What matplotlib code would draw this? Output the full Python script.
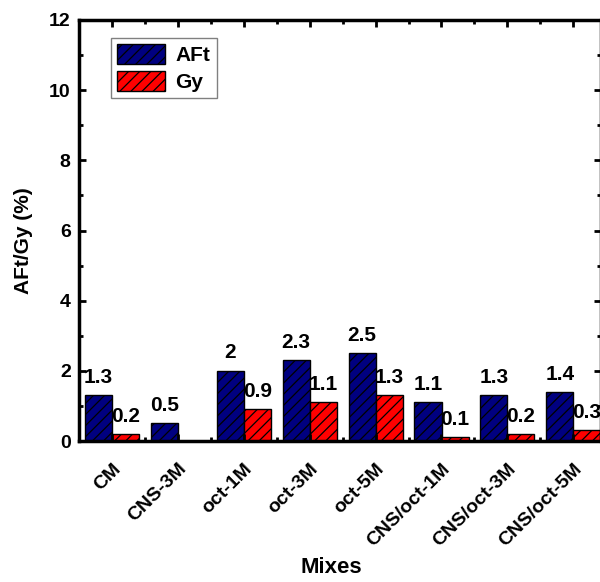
import matplotlib
matplotlib.use("Agg")
import matplotlib.pyplot as plt
import matplotlib.transforms as mtransforms
import numpy as np
from matplotlib.ticker import MultipleLocator

plt.rcParams['font.family'] = ['Liberation Sans', 'DejaVu Sans']
plt.rcParams['font.weight'] = 'bold'
plt.rcParams['hatch.linewidth'] = 0.9

# AFt / Gy content for each mix
mixes = ['CM', 'CNS-3M', 'oct-1M', 'oct-3M', 'oct-5M',
         'CNS/oct-1M', 'CNS/oct-3M', 'CNS/oct-5M']
aft = [1.3, 0.5, 2.0, 2.3, 2.5, 1.1, 1.3, 1.4]
gy = [0.2, np.nan, 0.9, 1.1, 1.3, 0.1, 0.2, 0.3]

fig = plt.figure(figsize=(6.0, 5.82), dpi=100)
ax = fig.add_axes([79 / 600, (582 - 441) / 582, 522 / 600, 421 / 582])

x = np.arange(len(mixes))
w = 0.41
b1 = ax.bar(x - w / 2, aft, w, color='#000080', edgecolor='black',
            linewidth=1.0, hatch='///', label='AFt')
b2 = ax.bar(x + w / 2, gy, w, color='#ff0000', edgecolor='black',
            linewidth=1.0, hatch='///', label='Gy')

# value labels over the bars
for bars, vals in ((b1, aft), (b2, gy)):
    for rect, v in zip(bars, vals):
        if np.isnan(v):
            continue
        ax.annotate(f'{v:g}', (rect.get_x() + rect.get_width() / 2, v),
                    xytext=(0, 6), textcoords='offset points',
                    ha='center', va='bottom', fontsize=15, fontweight='bold')

ax.set_xlim(-0.5, 7.42)
ax.set_ylim(0, 12)
ax.set_xticks(x)
ax.set_xticklabels(mixes, rotation=45, ha='right', va='top',
                   rotation_mode='anchor')
# pull the slanted labels back so their ends sit under the ticks
shift = mtransforms.ScaledTranslation(-8 / 72, 0, fig.dpi_scale_trans)
for lab in ax.get_xticklabels():
    lab.set_transform(lab.get_transform() + shift)
ax.xaxis.set_minor_locator(MultipleLocator(0.5))
ax.yaxis.set_major_locator(MultipleLocator(2))
ax.yaxis.set_minor_locator(MultipleLocator(1))

for s in ax.spines.values():
    s.set_linewidth(2.5)
ax.tick_params(which='both', direction='in', top=True, right=True, width=2)
ax.tick_params(which='major', length=5)
ax.tick_params(which='minor', length=3)
ax.tick_params(axis='x', which='major', pad=14, labelsize=14)
ax.tick_params(axis='y', which='major', pad=6, labelsize=14)

ax.set_ylabel('AFt/Gy (%)', fontsize=15, fontweight='bold')
ax.yaxis.set_label_coords(-0.088, 0.477)
ax.set_xlabel('Mixes', fontsize=16, fontweight='bold')
ax.xaxis.set_label_coords(0.483, -0.276)

leg = ax.legend(loc='upper left', bbox_to_anchor=(0.061, 0.957),
                borderaxespad=0, fancybox=False, framealpha=1,
                edgecolor='gray', fontsize=15, handlelength=2.3,
                handleheight=1.1, handletextpad=0.5, labelspacing=0.25,
                borderpad=0.3)
leg.get_frame().set_linewidth(1.0)

fig.savefig('out.png', dpi=100)
